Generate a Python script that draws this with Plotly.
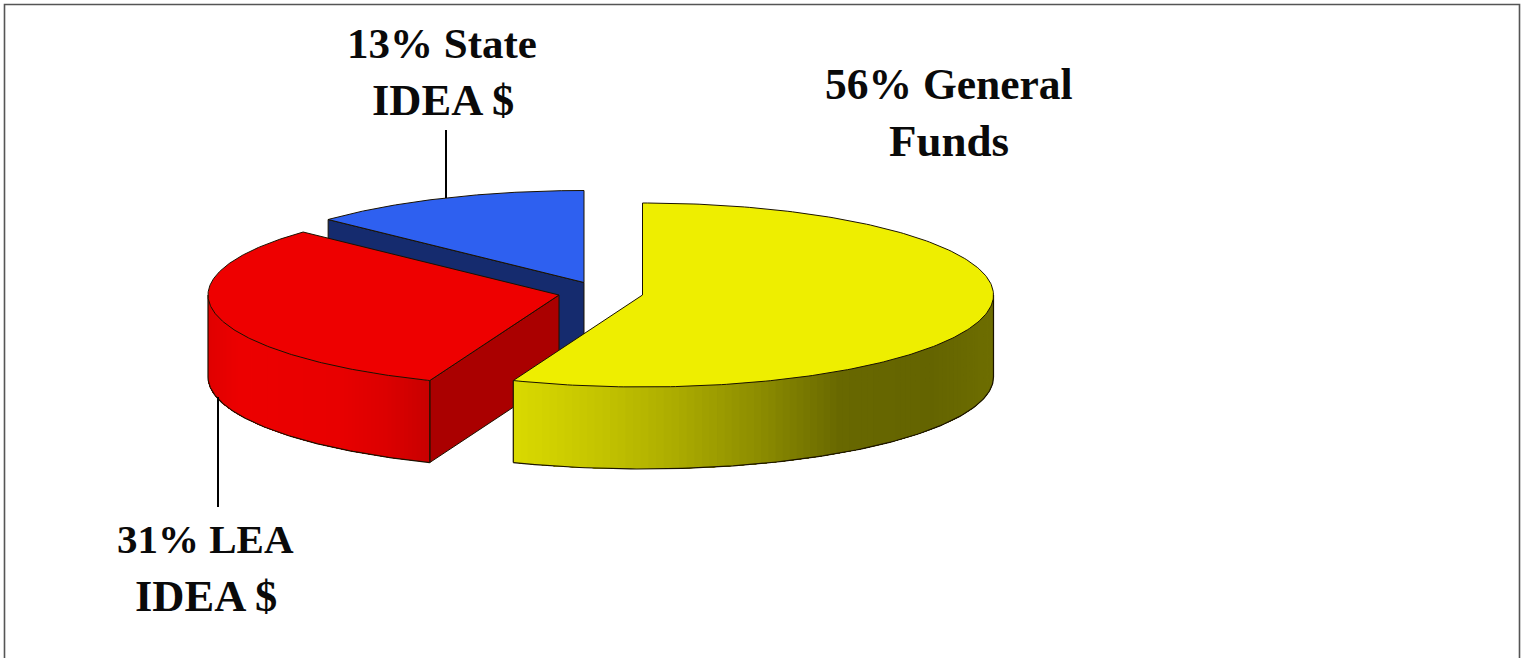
import numpy as np
import plotly.graph_objects as go

# Funding shares, in percent, clockwise from twelve o'clock
categories = ["General Funds", "LEA IDEA $", "State IDEA $"]
shares = [56, 31, 13]

# Label lines for each slice; the percentage comes from the share
label_lines = [["General", "Funds"], ["LEA", "IDEA $"], ["State", "IDEA $"]]

W, H = 1522, 658
RX, RY, DEPTH = 351, 92, 82
# Each slice is pulled out of the pie, so it has its own apex
APEX = {"General Funds": (642.5, 295), "LEA IDEA $": (559, 295), "State IDEA $": (584, 282.5)}
TOP = {"General Funds": "#eeee00", "LEA IDEA $": "#ee0000", "State IDEA $": "#2e60f0"}
CUT = {"LEA IDEA $": "#aa0000", "State IDEA $": "#152b6e"}
# Wall shading as (screen x, r, g, b) stops
WALL = {
    "General Funds": [(513, 218, 218, 0), (600, 196, 196, 0), (680, 170, 170, 0),
                      (760, 140, 140, 0), (840, 104, 104, 0), (930, 100, 100, 0), (994, 110, 110, 0)],
    "LEA IDEA $": [(208, 224, 0, 0), (240, 236, 0, 0), (340, 232, 0, 0), (385, 220, 0, 0), (430, 200, 0, 0)],
}
OUTLINE = "#1a1200"


def rim(cat, t):
    cx, cy = APEX[cat]
    return cx + RX * np.sin(t), cy - RY * np.cos(t)


def polygon(x, y, fill, line=None, width=1.0):
    return go.Scatter(x=list(x), y=list(y), mode="lines", fill="toself", fillcolor=fill,
                      line=dict(color=line or fill, width=width), hoverinfo="skip", showlegend=False)


def stroke(x, y, color=OUTLINE, width=1.2):
    return go.Scatter(x=list(x), y=list(y), mode="lines", line=dict(color=color, width=width),
                      hoverinfo="skip", showlegend=False)


# Start and end angle of every slice
fractions = np.array(shares) / sum(shares)
ends = np.cumsum(fractions) * 2 * np.pi
starts = ends - fractions * 2 * np.pi
angles = {c: (s, e) for c, s, e in zip(categories, starts, ends)}

fig = go.Figure()


def add_cut_face(cat, t):
    cx, cy = APEX[cat]
    px, py = rim(cat, t)
    fig.add_trace(polygon([cx, px, px, cx, cx], [cy, py, py + DEPTH, cy + DEPTH, cy], CUT[cat], OUTLINE, 1.0))


def add_wall(cat, t0, t1):
    # Shading bands run from t0 to the far end of the wall and overlap,
    # so no seams can open between neighbouring colours
    stops = np.array(WALL[cat], dtype=float)
    edges = np.linspace(t0, t1, 90)
    for a, b in zip(edges[:-1], edges[1:]):
        ts = np.linspace(a, t1, 60)
        x, y = rim(cat, ts)
        mid = rim(cat, (a + b) / 2)[0]
        r, g, bl = (np.interp(mid, stops[:, 0], stops[:, i]) for i in (1, 2, 3))
        col = f"rgb({r:.0f},{g:.0f},{bl:.0f})"
        fig.add_trace(polygon(list(x) + list(x[::-1]), list(y) + list(y[::-1] + DEPTH), col, col, 0))
    ts = np.linspace(t0, t1, 120)
    x, y = rim(cat, ts)
    fig.add_trace(stroke(x, y + DEPTH))
    fig.add_trace(stroke([x[0], x[0]], [y[0], y[0] + DEPTH]))
    fig.add_trace(stroke([x[-1], x[-1]], [y[-1], y[-1] + DEPTH]))


def add_top(cat):
    t0, t1 = angles[cat]
    cx, cy = APEX[cat]
    x, y = rim(cat, np.linspace(t0, t1, 240))
    fig.add_trace(polygon([cx, *x, cx], [cy, *y, cy], TOP[cat], OUTLINE, 1.0))


# Slices are painted back to front
state, lea, general = categories[2], categories[1], categories[0]
add_cut_face(state, angles[state][0])
add_top(state)

add_cut_face(lea, angles[lea][0])
add_wall(lea, angles[lea][0], 1.5 * np.pi)
add_top(lea)

add_wall(general, 0.5 * np.pi, angles[general][1])
add_top(general)

# Leader lines from the labels to their slices
fig.add_trace(stroke([446, 446], [130, 198], "#000000", 2))
fig.add_trace(stroke([218, 218], [397, 507], "#000000", 2))

# Slide frame, open along the bottom edge
fig.add_trace(stroke([4.5, 4.5, 1519.5, 1519.5], [H, 4.5, 4.5, H], "#555555", 1.6))

# Labels, one annotation per line: centre x, centre y, font size
label_pos = {
    general: [(948.5, 84, 43.5), (949, 141, 45)],
    lea: [(205.5, 539, 41), (206, 596, 44.5)],
    state: [(442, 43, 43), (443, 100, 44.5)],
}
for cat, share, lines in zip(categories, shares, label_lines):
    texts = [f"{share}% {lines[0]}", lines[1]]
    for text, (x, y, size) in zip(texts, label_pos[cat]):
        fig.add_annotation(x=x, y=y, text=f"<b>{text}</b>", showarrow=False, xanchor="center", yanchor="middle",
                           font=dict(family="Liberation Serif", size=size, color="#0a0a0a"))

fig.update_layout(
    width=W, height=H, margin=dict(l=0, r=0, t=0, b=0),
    paper_bgcolor="white", plot_bgcolor="white", showlegend=False,
    xaxis=dict(range=[0, W], visible=False, fixedrange=True),
    yaxis=dict(range=[H, 0], visible=False, fixedrange=True),
)
fig.write_html("out.html", config=dict(displayModeBar=False))
